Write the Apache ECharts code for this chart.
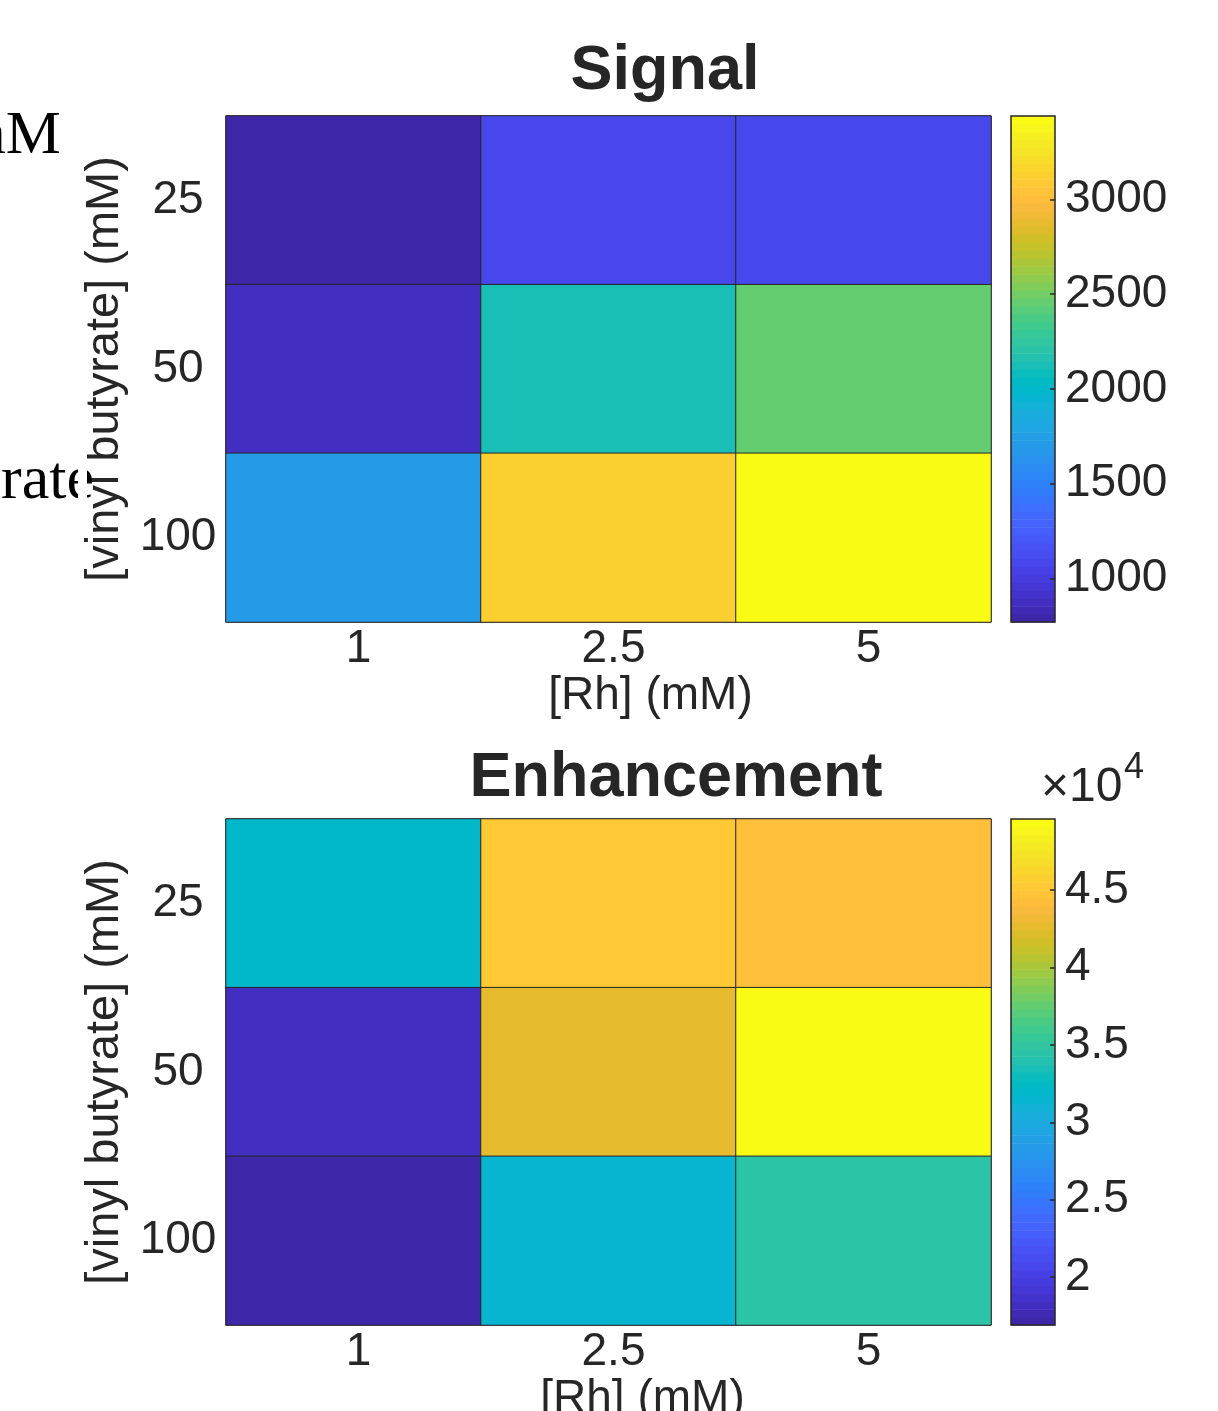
<!DOCTYPE html>
<html>
<head>
<meta charset="utf-8">
<script src="https://cdn.jsdelivr.net/npm/echarts@6/dist/echarts.min.js"></script>
<style>
html,body{margin:0;padding:0;background:#fff;}
#chart{width:1218px;height:1411px;}
</style>
</head>
<body>
<div id="chart"></div>
<script>
// ---- data ----
const rhLabels = ['1', '2.5', '5'];                 // x categories [Rh] (mM)
const vbLabels = ['25', '50', '100'];               // y categories [vinyl butyrate] (mM)
// rows: vinyl butyrate 25, 50, 100 ; cols: Rh 1, 2.5, 5
const signalRow25  = [770, 1067, 1075];
const signalRow50  = [855, 2126, 2465];
const signalRow100 = [1702, 3143, 3440];
const enhRow25  = [31950, 45450, 44600];
const enhRow50  = [17950, 42860, 49600];
const enhRow100 = [16900, 31420, 34550];
const signalTicks = [1000, 1500, 2000, 2500, 3000];
const enhTicks = [20000, 25000, 30000, 35000, 40000, 45000];

const parulaRGB = [
[0.2422,0.1504,0.6603],[0.2504,0.1650,0.7076],[0.2578,0.1818,0.7511],[0.2647,0.1978,0.7952],
[0.2706,0.2147,0.8364],[0.2751,0.2342,0.8710],[0.2783,0.2559,0.8991],[0.2803,0.2782,0.9221],
[0.2813,0.3006,0.9414],[0.2810,0.3228,0.9579],[0.2795,0.3447,0.9717],[0.2760,0.3667,0.9829],
[0.2699,0.3892,0.9906],[0.2602,0.4123,0.9952],[0.2440,0.4358,0.9988],[0.2206,0.4603,0.9973],
[0.1963,0.4847,0.9892],[0.1834,0.5074,0.9798],[0.1786,0.5289,0.9682],[0.1764,0.5499,0.9520],
[0.1687,0.5703,0.9359],[0.1540,0.5902,0.9218],[0.1460,0.6091,0.9079],[0.1380,0.6276,0.8973],
[0.1248,0.6459,0.8883],[0.1113,0.6635,0.8763],[0.0952,0.6798,0.8598],[0.0689,0.6948,0.8394],
[0.0297,0.7082,0.8163],[0.0036,0.7203,0.7917],[0.0067,0.7312,0.7660],[0.0433,0.7411,0.7394],
[0.0964,0.7500,0.7120],[0.1408,0.7584,0.6842],[0.1717,0.7670,0.6554],[0.1938,0.7758,0.6251],
[0.2161,0.7843,0.5923],[0.2470,0.7918,0.5567],[0.2906,0.7973,0.5188],[0.3406,0.8008,0.4789],
[0.3909,0.8029,0.4354],[0.4456,0.8024,0.3909],[0.5044,0.7993,0.3480],[0.5616,0.7942,0.3045],
[0.6174,0.7876,0.2612],[0.6720,0.7793,0.2227],[0.7242,0.7698,0.1910],[0.7738,0.7598,0.1646],
[0.8203,0.7498,0.1535],[0.8634,0.7406,0.1596],[0.9035,0.7330,0.1774],[0.9393,0.7288,0.2100],
[0.9728,0.7298,0.2394],[0.9956,0.7434,0.2371],[0.9970,0.7659,0.2199],[0.9952,0.7893,0.2028],
[0.9892,0.8136,0.1885],[0.9786,0.8386,0.1766],[0.9676,0.8639,0.1643],[0.9610,0.8890,0.1537],
[0.9597,0.9135,0.1423],[0.9628,0.9373,0.1265],[0.9691,0.9606,0.1064],[0.9769,0.9839,0.0805]
];
const parula = parulaRGB.map(c => 'rgb(' + c.map(v => Math.round(v * 255)).join(',') + ')');

// ---- build ----
function toCells(rows) {
  const out = [];
  rows.forEach((row, yi) => row.forEach((v, xi) => out.push([xi, yi, v])));
  return out;
}
const sigRows = [signalRow25, signalRow50, signalRow100];
const enhRows = [enhRow25, enhRow50, enhRow100];
const sigAll = sigRows.flat(), enhAll = enhRows.flat();
const sigMin = Math.min(...sigAll), sigMax = Math.max(...sigAll);
const enhMin = Math.min(...enhAll), enhMax = Math.max(...enhAll);

const FONT = "'Liberation Sans', Arial, Helvetica, sans-serif";
const INK = '#262626';

function colorbarRender(cmin, cmax) {
  const n = parula.length;
  return function (params, api) {
    const i = api.value(1);
    const y0 = cmin + i * (cmax - cmin) / n;
    const y1 = cmin + (i + 1) * (cmax - cmin) / n;
    const p0 = api.coord([0, y1]);
    const p1 = api.coord([1, y0]);
    return {
      type: 'rect',
      shape: { x: p0[0], y: p0[1], width: p1[0] - p0[0], height: p1[1] - p0[1] + 0.6 },
      style: { fill: parula[i] }
    };
  };
}

const plotL = 226, plotW = 765, plotH = 506;
const top1 = 116, top2 = 819;
const cbL = 1011, cbW = 44;

function heatX(gi, shift) {
  return {
    type: 'category', gridIndex: gi, data: rhLabels, position: 'bottom',
    axisLine: { show: false }, axisTick: { show: false }, splitLine: { show: false },
    axisLabel: { fontSize: 46, color: INK, fontFamily: FONT, margin: 4, padding: [0, 0, 0, 10] },
    name: '[Rh] (mM)', nameLocation: 'middle', nameGap: 50,
    nameTextStyle: { fontSize: 46, color: INK, fontFamily: FONT, padding: [0, 0, 0, shift] }
  };
}
function heatY(gi) {
  return {
    type: 'category', gridIndex: gi, data: vbLabels, inverse: true,
    axisLine: { show: false }, axisTick: { show: false }, splitLine: { show: false },
    axisLabel: { fontSize: 46, color: INK, fontFamily: FONT, margin: 48, align: 'center', padding: [0, 0, 6, 0] },
    name: '[vinyl butyrate] (mM)', nameLocation: 'middle', nameGap: 96, nameRotate: 90,
    nameTextStyle: { fontSize: 47, color: INK, fontFamily: FONT }
  };
}
function cbY(gi, cmin, cmax, ticks, fmt) {
  return {
    type: 'value', gridIndex: gi, min: cmin, max: cmax, position: 'right', z: 10,
    axisLine: { show: false, onZero: false }, splitLine: { show: false },
    axisTick: { show: true, inside: true, length: 5, lineStyle: { color: INK, width: 1.5 }, customValues: ticks },
    axisLabel: { fontSize: 46, color: INK, fontFamily: FONT, margin: 10, customValues: ticks, formatter: fmt, padding: [0, 0, 6, 0] }
  };
}
function cbX(gi) {
  return { type: 'value', gridIndex: gi, min: 0, max: 1, show: false };
}

const gridBase = { outerBoundsMode: 'none', containLabel: false, show: true, borderColor: INK, backgroundColor: 'transparent' };

const option = {
  animation: false,
  backgroundColor: '#ffffff',
  title: [
    { text: 'Signal', left: 660, top: 35, textAlign: 'center',
      textStyle: { fontSize: 63, fontWeight: 'bold', color: INK, fontFamily: FONT } },
    { text: 'Enhancement', left: 671, top: 742, textAlign: 'center',
      textStyle: { fontSize: 63, fontWeight: 'bold', color: INK, fontFamily: FONT } }
  ],
  grid: [
    Object.assign({}, gridBase, { left: plotL, top: top1, width: plotW, height: plotH, borderWidth: 1 }),
    Object.assign({}, gridBase, { left: plotL, top: top2, width: plotW, height: plotH, borderWidth: 1 }),
    Object.assign({}, gridBase, { left: cbL, top: top1, width: cbW, height: plotH, borderWidth: 1.5, z: 5 }),
    Object.assign({}, gridBase, { left: cbL, top: top2, width: cbW, height: plotH, borderWidth: 1.5, z: 5 })
  ],
  xAxis: [heatX(0, 84), heatX(1, 68), cbX(2), cbX(3)],
  yAxis: [
    heatY(0), heatY(1),
    cbY(2, sigMin, sigMax, signalTicks, v => String(v)),
    cbY(3, enhMin, enhMax, enhTicks, v => String(v / 1e4))
  ],
  visualMap: [
    { type: 'continuous', show: false, seriesIndex: 0, dimension: 2, min: sigMin, max: sigMax, inRange: { color: parula } },
    { type: 'continuous', show: false, seriesIndex: 1, dimension: 2, min: enhMin, max: enhMax, inRange: { color: parula } }
  ],
  series: [
    { type: 'heatmap', xAxisIndex: 0, yAxisIndex: 0, data: toCells(sigRows),
      itemStyle: { borderColor: INK, borderWidth: 1 }, emphasis: { disabled: true } },
    { type: 'heatmap', xAxisIndex: 1, yAxisIndex: 1, data: toCells(enhRows),
      itemStyle: { borderColor: INK, borderWidth: 1 }, emphasis: { disabled: true } },
    { type: 'custom', xAxisIndex: 2, yAxisIndex: 2, clip: false, silent: true, z: 1,
      data: parula.map((c, i) => [0, i]), renderItem: colorbarRender(sigMin, sigMax) },
    { type: 'custom', xAxisIndex: 3, yAxisIndex: 3, clip: false, silent: true, z: 1,
      data: parula.map((c, i) => [0, i]), renderItem: colorbarRender(enhMin, enhMax) }
  ],
  graphic: [
    { type: 'text', left: 1041, top: 764, z: 10,
      style: { text: '×10', font: "48px " + FONT, fill: INK } },
    { type: 'text', left: 1124, top: 750, z: 10,
      style: { text: '4', font: "36px " + FONT, fill: INK } },
    { type: 'text', x: 61, y: 168, z: 1,
      style: { text: 'mM', font: "62px 'Liberation Serif', 'Times New Roman', serif", fill: '#000', textAlign: 'right', textVerticalAlign: 'bottom' } },
    { type: 'text', x: 1, y: 513, z: 1,
      style: { text: 'rate', font: "62px 'Liberation Serif', 'Times New Roman', serif", fill: '#000', textAlign: 'left', textVerticalAlign: 'bottom' } },
    { type: 'rect', shape: { x: 78, y: 440, width: 9, height: 80 }, z: 2,
      style: { fill: '#ffffff' } }
  ]
};

const chart = echarts.init(document.getElementById('chart'), null, { renderer: 'canvas' });
chart.setOption(option);
</script>
</body>
</html>
